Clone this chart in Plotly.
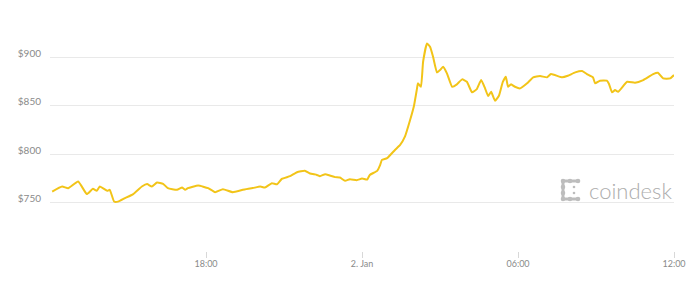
import plotly.graph_objects as go

# ---- data (BTC price, 1-2 Jan 2017) ----
times = [
    "2017-01-01 12:05", "2017-01-01 12:28", "2017-01-01 12:42", "2017-01-01 13:05",
    "2017-01-01 13:25", "2017-01-01 13:39", "2017-01-01 13:48", "2017-01-01 13:55",
    "2017-01-01 14:12", "2017-01-01 14:18", "2017-01-01 14:28", "2017-01-01 14:37",
    "2017-01-01 14:53", "2017-01-01 15:12", "2017-01-01 15:32", "2017-01-01 15:44",
    "2017-01-01 15:55", "2017-01-01 16:07", "2017-01-01 16:21", "2017-01-01 16:32",
    "2017-01-01 16:53", "2017-01-01 17:05", "2017-01-01 17:12", "2017-01-01 17:18",
    "2017-01-01 17:42", "2017-01-01 18:05", "2017-01-01 18:21", "2017-01-01 18:39",
    "2017-01-01 19:02", "2017-01-01 19:25", "2017-01-01 19:48", "2017-01-01 20:05",
    "2017-01-01 20:16", "2017-01-01 20:32", "2017-01-01 20:44", "2017-01-01 20:55",
    "2017-01-01 21:14", "2017-01-01 21:30", "2017-01-01 21:48", "2017-01-01 22:00",
    "2017-01-01 22:16", "2017-01-01 22:23", "2017-01-01 22:35", "2017-01-01 22:46",
    "2017-01-01 22:58", "2017-01-01 23:09", "2017-01-01 23:21", "2017-01-01 23:32",
    "2017-01-01 23:48", "2017-01-02 00:00", "2017-01-02 00:12", "2017-01-02 00:18",
    "2017-01-02 00:35", "2017-01-02 00:42", "2017-01-02 00:46", "2017-01-02 00:58",
    "2017-01-02 01:16", "2017-01-02 01:28", "2017-01-02 01:39", "2017-01-02 01:51",
    "2017-01-02 02:00", "2017-01-02 02:07", "2017-01-02 02:09", "2017-01-02 02:16",
    "2017-01-02 02:21", "2017-01-02 02:30", "2017-01-02 02:37", "2017-01-02 02:44",
    "2017-01-02 02:53", "2017-01-02 03:00", "2017-01-02 03:07", "2017-01-02 03:16",
    "2017-01-02 03:28", "2017-01-02 03:39", "2017-01-02 03:51", "2017-01-02 04:02",
    "2017-01-02 04:14", "2017-01-02 04:25", "2017-01-02 04:35", "2017-01-02 04:44",
    "2017-01-02 04:51", "2017-01-02 04:58", "2017-01-02 05:07", "2017-01-02 05:16",
    "2017-01-02 05:25", "2017-01-02 05:32", "2017-01-02 05:37", "2017-01-02 05:44",
    "2017-01-02 05:53", "2017-01-02 06:05", "2017-01-02 06:21", "2017-01-02 06:35",
    "2017-01-02 06:51", "2017-01-02 07:07", "2017-01-02 07:16", "2017-01-02 07:42",
    "2017-01-02 07:55", "2017-01-02 08:12", "2017-01-02 08:28", "2017-01-02 08:39",
    "2017-01-02 08:53", "2017-01-02 08:58", "2017-01-02 09:09", "2017-01-02 09:25",
    "2017-01-02 09:30", "2017-01-02 09:37", "2017-01-02 09:44", "2017-01-02 09:51",
    "2017-01-02 10:12", "2017-01-02 10:30", "2017-01-02 10:49", "2017-01-02 11:12",
    "2017-01-02 11:23", "2017-01-02 11:35", "2017-01-02 11:51", "2017-01-02 12:00",
]
prices = [
    761.4, 766.6, 764.9, 771.8,
    758.8, 764.2, 762.2, 766.6,
    762.2, 763.2, 751.1, 751.0,
    754.6, 758.8, 766.6, 769.1,
    766.6, 770.7, 769.4, 764.9,
    763.2, 765.6, 763.2, 764.9,
    767.6, 764.9, 760.8, 763.9,
    760.8, 763.2, 765.0, 766.6,
    765.6, 770.0, 769.0, 774.5,
    777.3, 781.4, 782.8, 780.0,
    778.6, 777.3, 779.4, 778.0,
    776.3, 775.9, 772.5, 774.2,
    773.2, 774.8, 773.8, 778.6,
    782.8, 789.0, 794.1, 795.9,
    804.4, 809.6, 818.1, 835.4,
    850.1, 868.0, 873.2, 869.7,
    895.5, 914.4, 910.9, 900.6,
    884.5, 886.9, 890.3, 883.5,
    869.7, 872.2, 877.3, 874.8,
    863.9, 867.3, 876.6, 868.0,
    860.1, 864.5, 855.3, 860.4,
    874.8, 880.0, 869.7, 872.2,
    869.7, 868.0, 873.2, 879.4,
    880.7, 879.4, 882.8, 879.4,
    881.0, 884.5, 885.9, 882.8,
    879.4, 873.2, 875.9, 875.9,
    872.5, 863.9, 866.3, 864.5,
    874.8, 873.8, 876.6, 882.8,
    884.1, 878.3, 878.3, 881.8,
]

x_tick_vals = ["2017-01-01 18:00", "2017-01-02 00:00", "2017-01-02 06:00", "2017-01-02 12:00"]
x_tick_text = ["18:00", "2. Jan", "06:00", "12:00"]
y_tick_vals = [750, 800, 850, 900]
y_tick_text = ["$750", "$800", "$850", "$900"]

LINE = "#F2C418"
FONT = "Lato, 'Open Sans', sans-serif"
LABEL = "#8a8a8a"

fig = go.Figure()
fig.add_trace(go.Scatter(
    x=times, y=prices, mode="lines",
    line=dict(color=LINE, width=2, shape="spline", smoothing=0.4),
    hoverinfo="skip", showlegend=False,
))

L, R, T, B = 50, 22, 9, 34
W, H = 696, 285
pw, ph = W - L - R, H - T - B


def px(x):
    return (x - L) / pw


def py(y):
    return (H - B - y) / ph


shapes = []
logo_col = "#bdbdbd"
# coindesk icon made of dots and short bars
for (cx, cy) in [(563, 181), (570, 181), (578, 181), (563, 199), (570, 199), (578, 199),
                 (563, 187), (563, 193)]:
    shapes.append(dict(type="circle", xref="paper", yref="paper",
                       x0=px(cx - 2.3), x1=px(cx + 2.3), y0=py(cy + 2.3), y1=py(cy - 2.3),
                       fillcolor=logo_col, line=dict(width=0)))
for (x0, y0, x1, y1) in [(563, 181, 578, 181), (563, 199, 578, 199), (563, 181, 563, 199)]:
    shapes.append(dict(type="line", xref="paper", yref="paper",
                       x0=px(x0), x1=px(x1), y0=py(y0), y1=py(y1),
                       line=dict(color=logo_col, width=3)))
for (cx, cy) in [(574, 187), (574, 193)]:
    shapes.append(dict(type="circle", xref="paper", yref="paper",
                       x0=px(cx - 1.3), x1=px(cx + 1.3), y0=py(cy + 1.3), y1=py(cy - 1.3),
                       fillcolor=logo_col, line=dict(width=0)))

fig.update_layout(
    width=W, height=H,
    margin=dict(l=L, r=R, t=T, b=B),
    paper_bgcolor="white", plot_bgcolor="white",
    font=dict(family=FONT, color=LABEL, size=10),
    shapes=shapes,
    annotations=[dict(
        text="coindesk", xref="paper", yref="paper",
        x=px(674), y=py(190), xanchor="right", yanchor="middle",
        showarrow=False, font=dict(family=FONT, size=22, color="#adadad", weight=300),
    )],
    xaxis=dict(
        type="date",
        range=["2017-01-01 12:00", "2017-01-02 12:00"],
        tickvals=x_tick_vals, ticktext=x_tick_text,
        showgrid=False, zeroline=False, showline=False,
        ticks="outside", ticklen=6, tickcolor="#d8d8d8", tickwidth=1,
        ticklabelstandoff=-2,
        tickfont=dict(size=9, color=LABEL),
        fixedrange=True,
    ),
    yaxis=dict(
        range=[700, 950],
        tickvals=y_tick_vals, ticktext=y_tick_text,
        showgrid=True, gridcolor="#e9e9e9", gridwidth=1,
        zeroline=False, showline=False, ticks="",
        ticklabelstandoff=8, ticklabelshift=-4,
        tickfont=dict(size=10, color=LABEL),
        fixedrange=True,
    ),
)

fig.write_html("out.html")
